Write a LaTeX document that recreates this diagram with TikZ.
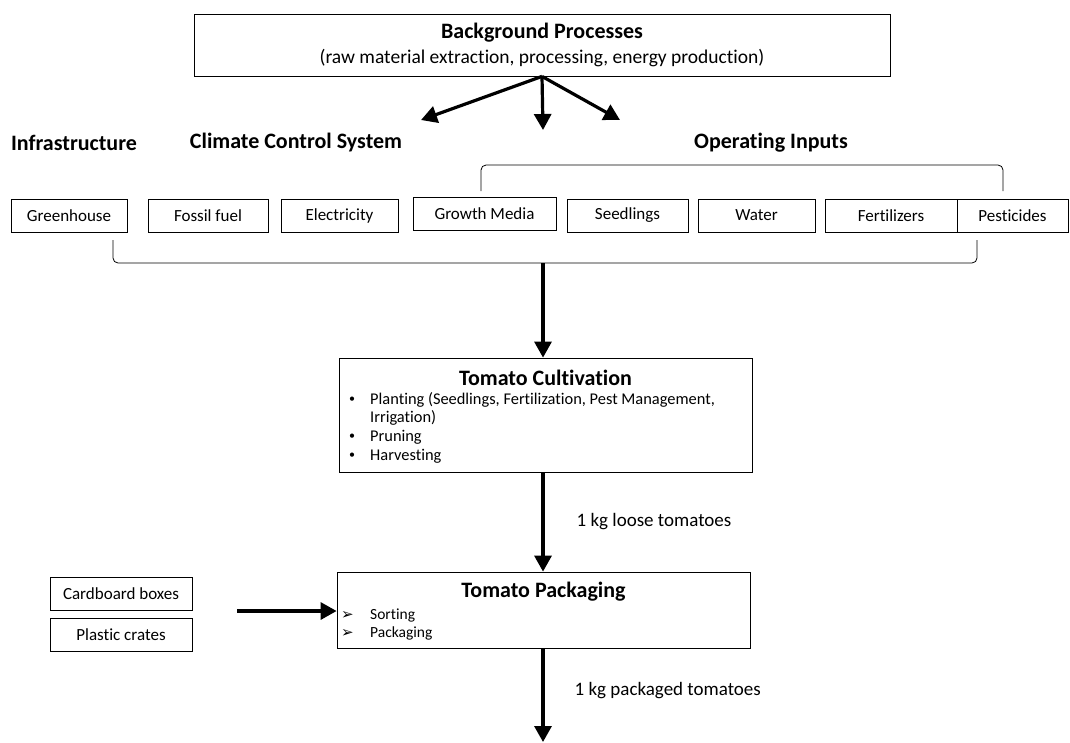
\documentclass[tikz,border=0pt]{standalone}
\usepackage{fontspec}
\setmainfont{Carlito}[Ligatures=NoCommon]
\newfontfamily\symfont{DejaVu Sans}
\usetikzlibrary{positioning}
\usetikzlibrary{arrows.meta}

\tikzset{
  box/.style={draw, line width=0.8pt, minimum height=33pt, inner sep=0pt,
    font=\fontsize{17}{19}\selectfont},
  heading/.style={font=\bfseries\fontsize{22}{24}\selectfont},
  flow/.style={-{Triangle[length=16pt,width=17pt]}, line width=3.2pt},
  bracketline/.style={line width=0.8pt, rounded corners=5pt},
  item/.style={anchor=west, inner sep=0pt, font=\fontsize{16.4}{18}\selectfont},
  note/.style={anchor=west, inner sep=0pt, font=\fontsize{19}{21}\selectfont},
}

\begin{document}
\begin{tikzpicture}[x=1pt, y=-1pt]
    \useasboundingbox (0,0) rectangle (1070,742);

    % Background processes
    \node[draw, line width=0.8pt, minimum width=696pt, minimum height=62pt] (bg) at (542,45) {};
    \node[heading, inner sep=0pt] (bgtitle) at (542,33) {Background Processes};
    \node[font=\fontsize{19.5}{21}\selectfont, inner sep=0pt] (bgsub) at (542,58)
        {(raw material extraction, processing, energy production)};

    \coordinate (tipL) at (421,120);
    \coordinate (tipM) at (543,130);
    \coordinate (tipR) at (620,120);
    \draw[flow] (bg.south) -- (tipL);
    \draw[flow] (bg.south) -- (tipM);
    \draw[flow] (bg.south) -- (tipR);

    % Headings
    \node[heading] (infra) at (74,143) {Infrastructure};
    \node[heading] (climate) at (296,143) {Climate Control System};
    \node[heading] (operating) at (771,143) {Operating Inputs};

    % Input boxes
    \node[box, minimum width=116pt] (greenhouse) at (69,216) {Greenhouse};
    \node[box, minimum width=120pt] (fossil) at (208,216) {Fossil fuel};
    \node[box, minimum width=117pt] (electricity) at (339.5,216) {Electricity};
    \node[box, minimum width=143pt] (media) at (484.5,213.5) {Growth Media};
    \node[box, minimum width=121pt] (seedlings) at (627.5,215.5) {Seedlings};
    \node[box, minimum width=117pt] (water) at (756.5,215.5) {Water};
    \node[box, minimum width=132pt] (fertilizers) at (891,215.5) {Fertilizers};
    \node[box, minimum width=111pt] (pesticides) at (1012.5,215.5) {Pesticides};

    % Brackets
    \draw[bracketline] (481,191) -- (481,165) -- (1003,165) -- (1003,191);
    \coordinate (collect) at (543,263);
    \draw[bracketline] (113,240) -- (113,263) -- (977,263) -- (977,240);

    % Tomato cultivation
    \node[draw, line width=0.8pt, minimum width=413pt, minimum height=114pt] (cult) at (545.5,415) {};
    \draw[flow] (collect) -- (cult.north -| collect);
    \node[heading, inner sep=0pt] (culttitle) at (545.5,378) {Tomato Cultivation};
    \node[item, font=\fontsize{12}{13}\selectfont] (b1) at (349,400) {•};
    \node[item] (t1) at (370,400) {Planting (Seedlings, Fertilization, Pest Management,};
    \node[item] (t1b) at (370,418) {Irrigation)};
    \node[item, font=\fontsize{12}{13}\selectfont] (b2) at (349,437) {•};
    \node[item] (t2) at (370,437) {Pruning};
    \node[item, font=\fontsize{12}{13}\selectfont] (b3) at (349,456) {•};
    \node[item] (t3) at (370,456) {Harvesting};

    % Tomato packaging
    \node[draw, line width=0.8pt, minimum width=413pt, minimum height=76pt] (pack) at (543.5,610) {};
    \draw[flow] (cult.south -| collect) -- (pack.north -| collect)
        node[note, pos=0.5, xshift=32pt] (loose) {1 kg loose tomatoes};
    \node[heading, inner sep=0pt] (packtitle) at (543.5,592) {Tomato Packaging};
    \node[item, font=\symfont\fontsize{15}{16}\selectfont] (a1) at (341,615) {➢};
    \node[item, font=\fontsize{15.5}{17}\selectfont] (s1) at (370,615) {Sorting};
    \node[item, font=\symfont\fontsize{15}{16}\selectfont] (a2) at (341,633) {➢};
    \node[item, font=\fontsize{15.5}{17}\selectfont] (s2) at (370,633) {Packaging};

    % Packaging materials
    \node[box, minimum width=142pt] (cardboard) at (121,593.5) {Cardboard boxes};
    \node[box, minimum width=142pt] (crates) at (121,634.5) {Plastic crates};
    \coordinate (matin) at (237,611);
    \draw[flow] (matin) -- (pack.west |- matin);

    % Output
    \coordinate (out) at (543,742);
    \draw[flow] (pack.south -| out) -- (out)
        node[note, pos=0.45, xshift=30pt] (packed) {1 kg packaged tomatoes};
\end{tikzpicture}
\end{document}
